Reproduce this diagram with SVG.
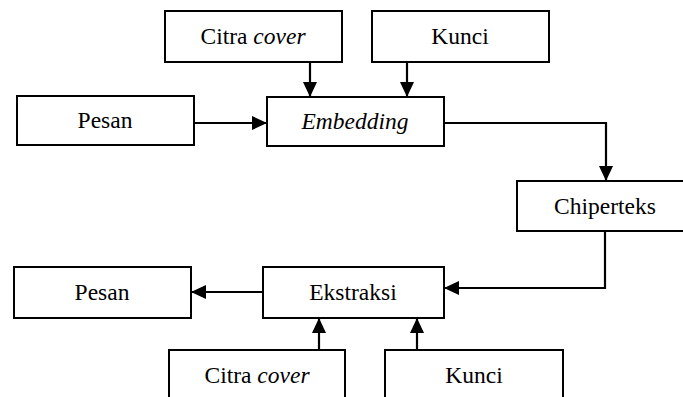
<svg xmlns="http://www.w3.org/2000/svg" width="683" height="397" viewBox="0 0 683 397">
  <style>
    .box { fill: #ffffff; stroke: #000000; stroke-width: 2; }
    text { font-family: "Liberation Serif", "Times New Roman", Times, "DejaVu Serif", serif; font-size: 23.5px; fill: #000000; text-anchor: middle; }
    .it { font-style: italic; }
    .edge { fill: none; stroke: #000000; stroke-width: 2.2; marker-end: url(#arrow); }
  </style>
  <defs>
    <marker id="arrow" markerUnits="userSpaceOnUse" markerWidth="16" markerHeight="14" refX="15" refY="7" orient="auto">
      <path d="M0,0 L15,7 L0,14 Z" fill="#000000"/>
    </marker>
  </defs>

  <rect width="683" height="397" fill="#ffffff"/>

  <!-- connectors -->
  <g id="connectors">
    <path class="edge" d="M310,62 L310,97"/>
    <path class="edge" d="M407,62 L407,97"/>
    <path class="edge" d="M194,123 L267,123"/>
    <path class="edge" d="M444,123 L606,123 L606,181"/>
    <path class="edge" d="M605,231 L605,288 L444,288"/>
    <path class="edge" d="M263,292 L191,292"/>
    <path class="edge" d="M319,350 L319,318"/>
    <path class="edge" d="M417,350 L417,318"/>
  </g>

  <!-- embedding side -->
  <g id="cover-in">
    <rect class="box" x="165" y="11" width="177" height="51"/>
    <text x="253" y="44" font-family="Liberation Serif, serif">Citra <tspan class="it">cover</tspan></text>
  </g>
  <g id="key-in">
    <rect class="box" x="372" y="11" width="177" height="51"/>
    <text x="460" y="44" font-family="Liberation Serif, serif">Kunci</text>
  </g>
  <g id="message-in">
    <rect class="box" x="17" y="96" width="177" height="49"/>
    <text x="105" y="128" font-family="Liberation Serif, serif">Pesan</text>
  </g>
  <g id="embedding">
    <rect class="box" x="267" y="97" width="177" height="49"/>
    <text class="it" x="355" y="129" font-family="Liberation Serif, serif">Embedding</text>
  </g>
  <g id="ciphertext">
    <rect class="box" x="517" y="181" width="177" height="50"/>
    <text x="605" y="214" font-family="Liberation Serif, serif">Chiperteks</text>
  </g>

  <!-- extraction side -->
  <g id="extraction">
    <rect class="box" x="263" y="267" width="181" height="51"/>
    <text x="353" y="300" font-family="Liberation Serif, serif">Ekstraksi</text>
  </g>
  <g id="message-out">
    <rect class="box" x="14" y="267" width="177" height="51"/>
    <text x="102" y="300" font-family="Liberation Serif, serif">Pesan</text>
  </g>
  <g id="cover-out">
    <rect class="box" x="169" y="350" width="176" height="52"/>
    <text x="257" y="383" font-family="Liberation Serif, serif">Citra <tspan class="it">cover</tspan></text>
  </g>
  <g id="key-out">
    <rect class="box" x="385" y="350" width="178" height="52"/>
    <text x="474" y="383" font-family="Liberation Serif, serif">Kunci</text>
  </g>
</svg>
